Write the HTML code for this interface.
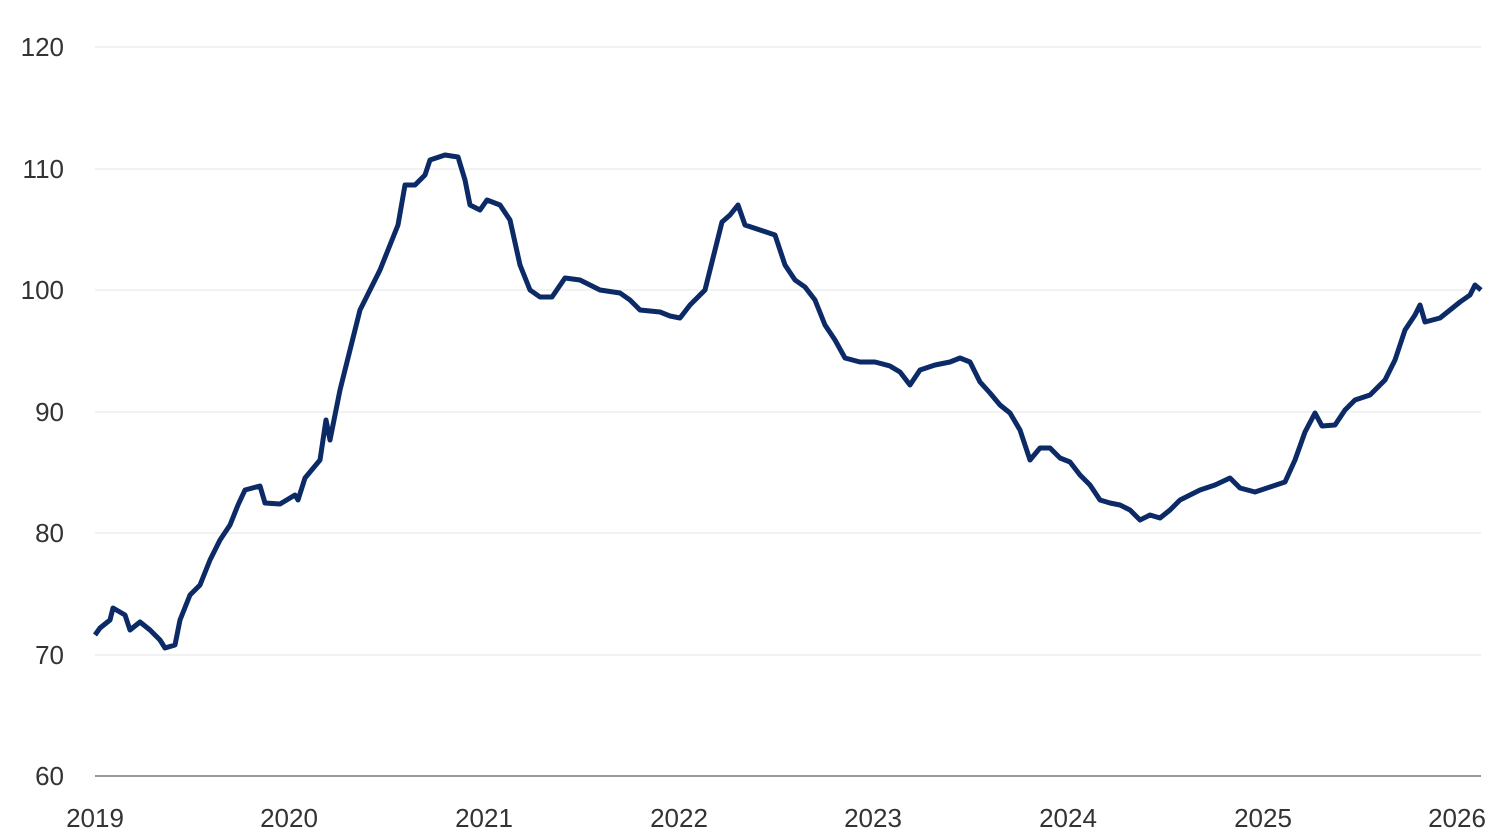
<!DOCTYPE html>
<html><head><meta charset="utf-8"><style>
html,body{margin:0;padding:0;background:#fff;}
svg{display:block;}
text{font-family:"Liberation Sans","DejaVu Sans",sans-serif;font-size:26px;fill:#333;}
</style></head><body>
<svg width="1504" height="837" viewBox="0 0 1504 837">
<g stroke="#e6e6e6" stroke-width="1">
<line x1="95" y1="47" x2="1481" y2="47"/>
<line x1="95" y1="169" x2="1481" y2="169"/>
<line x1="95" y1="290" x2="1481" y2="290"/>
<line x1="95" y1="412" x2="1481" y2="412"/>
<line x1="95" y1="533" x2="1481" y2="533"/>
<line x1="95" y1="655" x2="1481" y2="655"/>
</g>
<line x1="95" y1="776" x2="1481" y2="776" stroke="#333" stroke-width="1"/>
<g text-anchor="end">
<text x="64" y="56">120</text>
<text x="64" y="178">110</text>
<text x="64" y="299">100</text>
<text x="64" y="421">90</text>
<text x="64" y="542">80</text>
<text x="64" y="664">70</text>
<text x="64" y="785">60</text>
</g>
<g text-anchor="middle">
<text x="95" y="827">2019</text>
<text x="289" y="827">2020</text>
<text x="484" y="827">2021</text>
<text x="679" y="827">2022</text>
<text x="873" y="827">2023</text>
<text x="1068" y="827">2024</text>
<text x="1263" y="827">2025</text>
<text x="1457" y="827">2026</text>
</g>
<polyline fill="none" stroke="#0b2a66" stroke-width="5" stroke-linejoin="round" points="95,635 100,628 110,620 113,608 125,615 130,630 140,622 150,630 160,640 165,648 175,645 180,620 190,595 200,585 210,560 220,540 230,525 238,505 245,490 260,486 265,503 280,504 295,495 298,500 305,478 320,460 326,420 330,440 340,390 350,350 360,310 370,290 380,270 390,245 398,225 405,185 415,185 425,175 430,160 445,155 458,157 465,180 470,205 480,210 487,200 500,205 510,220 520,265 530,290 540,297 552,297 565,278 580,280 590,285 600,290 620,293 630,300 640,310 660,312 670,316 680,318 690,305 705,290 715,250 722,222 730,215 738,205 745,225 760,230 775,235 785,265 795,280 805,287 815,300 825,325 835,340 845,358 860,362 875,362 890,366 900,372 910,385 920,370 935,365 950,362 960,358 970,362 980,382 990,393 1000,405 1010,413 1020,430 1030,460 1040,448 1050,448 1060,458 1070,462 1080,475 1090,485 1100,500 1110,503 1120,505 1130,510 1140,520 1150,515 1160,518 1170,510 1180,500 1190,495 1200,490 1215,485 1230,478 1240,488 1255,492 1270,487 1285,482 1295,460 1305,432 1315,413 1322,426 1335,425 1345,410 1355,400 1370,395 1385,380 1395,360 1405,330 1415,315 1420,305 1425,322 1440,318 1450,310 1460,302 1470,295 1475,285 1481,290"/>
</svg>
</body></html>
